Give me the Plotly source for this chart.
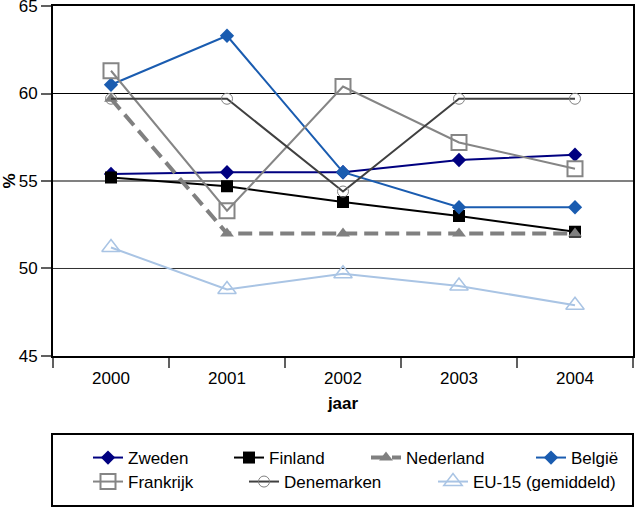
import plotly.graph_objects as go

years = ["2000", "2001", "2002", "2003", "2004"]
zweden = [55.4, 55.5, 55.5, 56.2, 56.5]
finland = [55.2, 54.7, 53.8, 53.0, 52.1]
nederland = [59.7, 52.0, 52.0, 52.0, 52.0]
belgie = [60.5, 63.3, 55.5, 53.5, 53.5]
frankrijk = [61.3, 53.3, 60.4, 57.2, 55.7]
denemarken = [59.7, 59.7, 54.4, 59.7, 59.7]
eu15 = [51.2, 48.8, 49.7, 49.0, 47.9]
y_ticks = [45, 50, 55, 60, 65]

FONT = "Liberation Sans, Arial, sans-serif"
L, R, T, B = 53, 3, 6, 151
W, H = 636, 507
PW, PH = W - L - R, H - T - B

def px2x(px):
    return (px - L) / PW

def px2y(py):
    return (H - B - py) / PH

series = [
    dict(name="Zweden", y=zweden, color="#000080", lw=2, dash="solid",
         marker=dict(symbol="diamond", size=11, color="#000080"),
         text_x=128, row=458),
    dict(name="Finland", y=finland, color="#000000", lw=2, dash="solid",
         marker=dict(symbol="square", size=12, color="#000000"),
         text_x=269, row=458),
    dict(name="Nederland", y=nederland, color="#808080", lw=4, dash="14px,7px",
         marker=dict(symbol="triangle-up", size=12, color="#808080"),
         text_x=406, row=458),
    dict(name="België", y=belgie, color="#1a5cb0", lw=2, dash="solid",
         marker=dict(symbol="diamond", size=11, color="#1a5cb0"),
         text_x=571, row=458),
    dict(name="Frankrijk", y=frankrijk, color="#858585", lw=2, dash="solid",
         marker=dict(symbol="square-open", size=15, color="#858585",
                     line=dict(width=2, color="#858585")),
         text_x=128, row=482),
    dict(name="Denemarken", y=denemarken, color="#404040", lw=2, dash="solid",
         marker=dict(symbol="circle-open", size=11, color="#808080",
                     line=dict(width=1, color="#808080")),
         text_x=284, row=482),
    dict(name="EU-15 (gemiddeld)", y=eu15, color="#a9c4e4", lw=2, dash="solid",
         marker=dict(symbol="triangle-up-open", size=16, color="#a9c4e4",
                     line=dict(width=1.5, color="#a9c4e4")),
         text_x=473, row=482),
]

fig = go.Figure()
layout_legends = {}
for i, s in enumerate(series):
    lname = "legend" if i == 0 else f"legend{i+1}"
    fig.add_trace(go.Scatter(
        x=years, y=s["y"], name=s["name"], mode="lines+markers",
        line=dict(color=s["color"], width=s["lw"], dash=s["dash"]),
        marker=s["marker"], legend=lname, cliponaxis=False,
    ))
    layout_legends[lname] = dict(
        x=px2x(s["text_x"] - 40), y=px2y(s["row"]),
        xanchor="left", yanchor="middle",
        orientation="h", bgcolor="rgba(0,0,0,0)", borderwidth=0,
        font=dict(family=FONT, size=17, color="#000"),
    )

shapes = []
for v, col, w in [(50, "#303030", 1), (55, "#808080", 2), (60, "#000000", 1)]:
    shapes.append(dict(type="line", xref="paper", x0=0, x1=1, yref="y", y0=v, y1=v,
                       line=dict(color=col, width=w), layer="below"))
shapes.append(dict(type="rect", xref="paper", yref="paper",
                   x0=px2x(52), x1=px2x(633), y0=px2y(506), y1=px2y(434),
                   line=dict(color="#000", width=2)))

fig.update_layout(
    width=W, height=H, margin=dict(l=L, r=R, t=T, b=B, autoexpand=False),
    paper_bgcolor="white", plot_bgcolor="white",
    font=dict(family=FONT, size=17, color="#000"),
    shapes=shapes, showlegend=True,
    **layout_legends,
)
fig.update_xaxes(
    type="category", range=[-0.5, 4.5], tickson="boundaries",
    ticks="outside", ticklen=10, tickcolor="#606060", tickwidth=2,
    showline=True, linecolor="#000", linewidth=2, mirror=True,
    showgrid=False, tickfont=dict(size=17), automargin=False,
    ticklabelstandoff=6,
    title=dict(text="<b>jaar</b>", font=dict(size=17), standoff=10),
)
fig.update_yaxes(
    range=[44.999, 65.001], tickvals=y_ticks, ticks="outside", ticklen=10,
    tickcolor="#606060", tickwidth=2, ticklabeloverflow="allow",
    showline=True, linecolor="#000", linewidth=2, mirror=True,
    showgrid=False, zeroline=False, tickfont=dict(size=17), automargin=False,
    title=dict(text="<b>%</b>", font=dict(size=17), standoff=4),
)

fig.write_html("out.html", config={"displayModeBar": False},
               post_script="document.body.style.margin='0';document.body.style.overflow='hidden';")
